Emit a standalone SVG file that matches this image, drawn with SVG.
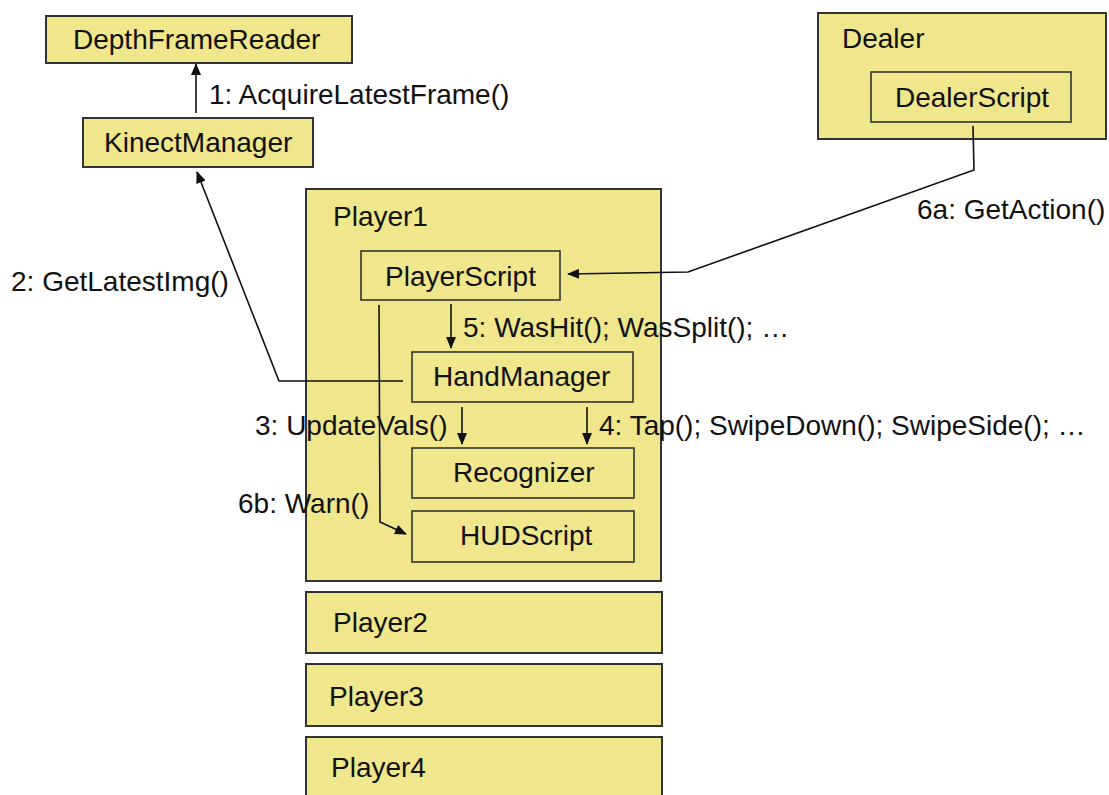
<svg xmlns="http://www.w3.org/2000/svg" width="1109" height="795" viewBox="0 0 1109 795">
  <style>
    .box { fill: #f0e68c; stroke: #333333; stroke-width: 2; }
    .inner { fill: #f0e68c; stroke: #333333; stroke-width: 1.6; }
    .lbl { font-family: "Liberation Sans", Arial, sans-serif; font-size: 28px; fill: #111111; }
    .wire { fill: none; stroke: #111111; stroke-width: 1.6; }
  </style>
  <defs>
    <marker id="arrow" viewBox="0 0 12 10" refX="11" refY="5" markerWidth="12" markerHeight="10" markerUnits="userSpaceOnUse" orient="auto">
      <path d="M0,0 L12,5 L0,10 Z" fill="#111111"/>
    </marker>
  </defs>
  <rect width="1109" height="795" fill="#ffffff"/>

  <g id="DepthFrameReader">
    <rect class="box" x="46" y="16" width="306" height="47"/>
    <text class="lbl" x="73" y="49">DepthFrameReader</text>
  </g>
  <g id="KinectManager">
    <rect class="box" x="83" y="118" width="230" height="49"/>
    <text class="lbl" x="104" y="152">KinectManager</text>
  </g>
  <g id="Dealer">
    <rect class="box" x="818" y="13" width="288" height="126"/>
    <text class="lbl" x="842" y="48">Dealer</text>
  </g>
  <g id="DealerScript">
    <rect class="inner" x="871" y="72" width="200" height="50"/>
    <text class="lbl" x="895" y="107">DealerScript</text>
  </g>
  <g id="Player1">
    <rect class="box" x="306" y="189" width="355" height="392"/>
    <text class="lbl" x="333" y="226">Player1</text>
  </g>
  <g id="PlayerScript">
    <rect class="inner" x="361" y="251" width="199" height="49"/>
    <text class="lbl" x="385" y="286">PlayerScript</text>
  </g>
  <g id="HandManager">
    <rect class="inner" x="412" y="352" width="221" height="50"/>
    <text class="lbl" x="433" y="386">HandManager</text>
  </g>
  <g id="Recognizer">
    <rect class="inner" x="412" y="448" width="222" height="50"/>
    <text class="lbl" x="453" y="482">Recognizer</text>
  </g>
  <g id="HUDScript">
    <rect class="inner" x="412" y="511" width="222" height="51"/>
    <text class="lbl" x="460" y="545">HUDScript</text>
  </g>
  <g id="Player2">
    <rect class="box" x="306" y="592" width="356" height="61"/>
    <text class="lbl" x="333" y="632">Player2</text>
  </g>
  <g id="Player3">
    <rect class="box" x="306" y="664" width="356" height="62"/>
    <text class="lbl" x="329" y="706">Player3</text>
  </g>
  <g id="Player4">
    <rect class="box" x="306" y="737" width="356" height="70"/>
    <text class="lbl" x="331" y="777">Player4</text>
  </g>

  <g id="connectors">
    <!-- 1: KinectManager -> DepthFrameReader -->
    <line class="wire" x1="196" y1="113" x2="196" y2="64" marker-end="url(#arrow)"/>
    <text class="lbl" x="209" y="104">1: AcquireLatestFrame()</text>
    <!-- 2: HandManager -> KinectManager -->
    <polyline class="wire" points="403,381 279,381 197,172" marker-end="url(#arrow)"/>
    <text class="lbl" x="11" y="291">2: GetLatestImg()</text>
    <!-- 3 and 4: HandManager -> Recognizer -->
    <line class="wire" x1="462" y1="407" x2="462" y2="444" marker-end="url(#arrow)"/>
    <text class="lbl" x="255" y="435">3: UpdateVals()</text>
    <line class="wire" x1="587" y1="407" x2="587" y2="444" marker-end="url(#arrow)"/>
    <text class="lbl" x="599" y="435">4: Tap(); SwipeDown(); SwipeSide(); …</text>
    <!-- 5: PlayerScript -> HandManager -->
    <line class="wire" x1="451" y1="304" x2="451" y2="348" marker-end="url(#arrow)"/>
    <text class="lbl" x="463" y="337">5: WasHit(); WasSplit(); …</text>
    <!-- 6a: DealerScript -> PlayerScript -->
    <polyline class="wire" points="973,126 974,170 688,272 568,274" marker-end="url(#arrow)"/>
    <text class="lbl" x="917" y="219">6a: GetAction()</text>
    <!-- 6b: PlayerScript -> HUDScript -->
    <polyline class="wire" points="379,305 380,522 406,534" marker-end="url(#arrow)"/>
    <text class="lbl" x="238" y="513">6b: Warn()</text>
  </g>
</svg>
